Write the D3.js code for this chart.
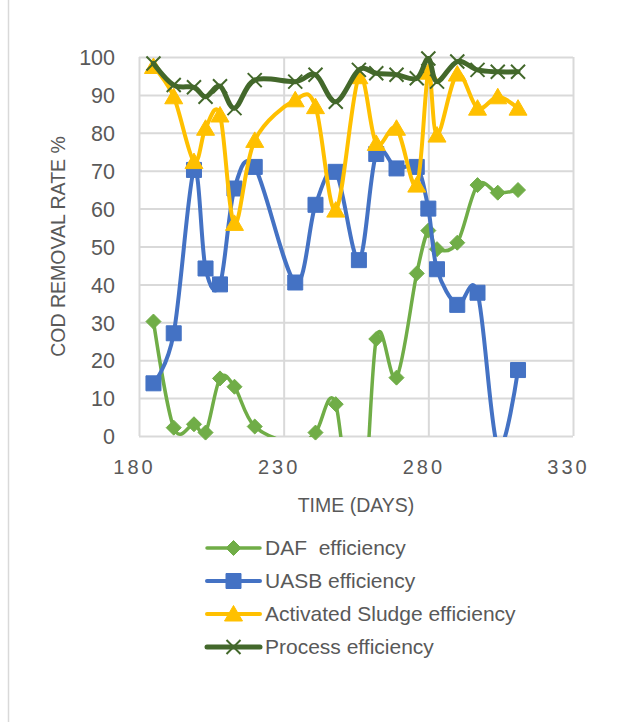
<!DOCTYPE html>
<html>
<head>
<meta charset="utf-8">
<script src="https://cdn.jsdelivr.net/npm/d3@7"></script>
<style>
  html, body { margin: 0; padding: 0; background: #fff; }
  svg { display: block; }
  text { font-family: "Liberation Sans", Arial, sans-serif; fill: #595959; }
</style>
</head>
<body>
<svg id="chart" width="618" height="722"></svg>
<script>
// Sampling days (x) shared by all series
const days = [185, 192, 199, 203, 208, 213, 220, 234, 241, 248, 256, 262, 269, 276, 280, 283, 290, 297, 304, 311];

// COD removal rate (%) per treatment stage
const dafEff     = [30.2, 2.2, 3.1, 0.9, 15.2, 13.0, 2.5, -2, 0.9, 8.4, -35, 25.6, 15.4, 42.9, 54.2, 49.3, 51.0, 66.2, 64.2, 64.9];
const uasbEff    = [13.9, 27.1, 70.2, 44.2, 40.0, 65.3, 71.0, 40.5, 61.0, 69.7, 46.4, 74.4, 70.6, 71.0, 60.0, 44.0, 34.6, 37.8, -3, 17.4];
const sludgeEff  = [97.5, 89.5, 72.4, 81.2, 84.7, 56.1, 78.0, 88.7, 86.9, 59.6, 94.8, 77.2, 81.2, 66.2, 96.0, 79.4, 95.5, 86.5, 89.5, 86.5];
const processEff = [98.3, 92.6, 92.0, 89.5, 92.3, 86.5, 93.9, 93.5, 95.3, 88.2, 96.6, 95.7, 95.3, 94.4, 99.6, 93.5, 98.8, 96.6, 96.1, 96.1];

const seriesNames = ["DAF  efficiency", "UASB efficiency", "Activated Sludge efficiency", "Process efficiency"];
const xTicks = [180, 230, 280, 330];
const yTicks = [0, 10, 20, 30, 40, 50, 60, 70, 80, 90, 100];

const series = [
  { name: seriesNames[0], values: dafEff,     color: "#70ad47", width: 3.5, marker: "diamond" },
  { name: seriesNames[1], values: uasbEff,    color: "#4472c4", width: 4,   marker: "square" },
  { name: seriesNames[2], values: sludgeEff,  color: "#ffc000", width: 4,   marker: "triangle" },
  { name: seriesNames[3], values: processEff, color: "#43682b", width: 5,   marker: "x" }
];

const svg = d3.select("#chart");
const plot = { left: 139, right: 573, top: 57, bottom: 436 };

const x = d3.scaleLinear().domain([180, 330]).range([plot.left, plot.right]);
const y = d3.scaleLinear().domain([0, 100]).range([plot.bottom, plot.top]);

// chart area edge on the left
svg.append("line")
  .attr("x1", 8.5).attr("x2", 8.5).attr("y1", 0).attr("y2", 722)
  .attr("stroke", "#d9d9d9").attr("stroke-width", 1.5);

// y axis with horizontal gridlines
const yAxis = svg.append("g")
  .attr("transform", `translate(${plot.left},0)`)
  .call(d3.axisLeft(y).tickValues(yTicks).tickSize(-(plot.right - plot.left)).tickPadding(24));
yAxis.select(".domain").remove();
yAxis.selectAll(".tick line").attr("stroke", "#d9d9d9").attr("stroke-width", 2);
yAxis.selectAll(".tick text")
  .style("font-size", "21.5px").attr("fill", "#595959").attr("dy", "0.36em");

// x axis with vertical gridlines
const xAxis = svg.append("g")
  .attr("transform", `translate(0,${plot.bottom})`)
  .call(d3.axisBottom(x).tickValues(xTicks).tickSize(-(plot.bottom - plot.top)).tickPadding(24));
xAxis.select(".domain").remove();
xAxis.selectAll(".tick line").attr("stroke", "#d9d9d9").attr("stroke-width", 2);
xAxis.selectAll(".tick text")
  .style("font-size", "20px").style("letter-spacing", "3px")
  .attr("fill", "#595959").attr("dx", -5).attr("dy", "0.71em");

// axis titles
svg.append("text")
  .attr("transform", `translate(65,${(plot.top + plot.bottom) / 2}) rotate(-90)`)
  .attr("text-anchor", "middle")
  .style("font-size", "19.5px")
  .text("COD REMOVAL RATE %");

svg.append("text")
  .attr("x", (plot.left + plot.right) / 2).attr("y", 512)
  .attr("text-anchor", "middle")
  .style("font-size", "19.5px")
  .text("TIME (DAYS)");

// clip for the lines: values outside 0–100 are cut at the plot edges
svg.append("defs").append("clipPath").attr("id", "plotClip")
  .append("rect")
  .attr("x", plot.left - 10).attr("y", plot.top - 12)
  .attr("width", plot.right - plot.left + 20).attr("height", plot.bottom - plot.top + 13);

const markerPath = {
  diamond: "M0,-7.5L7.5,0L0,7.5L-7.5,0Z",
  square: "M-7.5,-7.5H7.5V7.5H-7.5Z",
  triangle: "M0,-8.5L9,7L-9,7Z",
  x: "M-7,-7L7,7M-7,7L7,-7"
};

function drawMarker(g, type, color) {
  const p = g.append("path").attr("d", markerPath[type]);
  if (type === "x") {
    p.attr("fill", "none").attr("stroke", color).attr("stroke-width", 2);
  } else {
    p.attr("fill", color).attr("stroke", color).attr("stroke-width", 1);
  }
}

const line = d3.line()
  .x((d, i) => x(days[i]))
  .y(d => y(d))
  .curve(d3.curveCardinal.tension(0));

series.forEach(s => {
  const g = svg.append("g");
  g.append("path")
    .attr("clip-path", "url(#plotClip)")
    .attr("d", line(s.values))
    .attr("fill", "none")
    .attr("stroke", s.color)
    .attr("stroke-width", s.width)
    .attr("stroke-linejoin", "round")
    .attr("stroke-linecap", "round");
  s.values.forEach((v, i) => {
    if (v < 0 || v > 100) return;
    const m = g.append("g").attr("transform", `translate(${x(days[i])},${y(v)})`);
    drawMarker(m, s.marker, s.color);
  });
});

// legend
const legend = svg.append("g");
const legendRows = [548, 581, 614, 647];
series.forEach((s, i) => {
  const row = legend.append("g").attr("transform", `translate(0,${legendRows[i]})`);
  row.append("line")
    .attr("x1", 207).attr("x2", 260).attr("y1", 0).attr("y2", 0)
    .attr("stroke", s.color).attr("stroke-width", s.width).attr("stroke-linecap", "round");
  const m = row.append("g").attr("transform", "translate(233.5,0)");
  drawMarker(m, s.marker, s.color);
  row.append("text")
    .attr("x", 265).attr("y", 0).attr("dy", "0.35em")
    .style("font-size", "21px")
    .style("white-space", "pre")
    .text(s.name);
});
</script>
</body>
</html>
